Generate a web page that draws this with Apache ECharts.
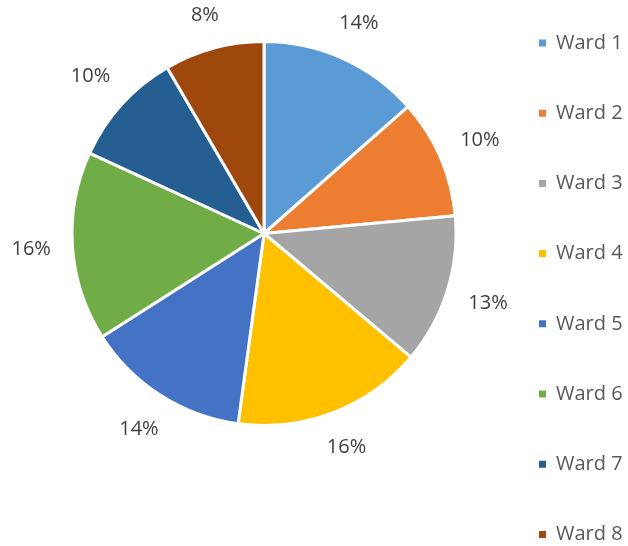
<!DOCTYPE html>
<html>
<head>
<meta charset="utf-8">
<script src="https://cdn.jsdelivr.net/npm/echarts@6/dist/echarts.min.js"></script>
<style>
  html, body { margin: 0; padding: 0; background: #fff; }
  #chart { width: 628px; height: 546px; }
</style>
</head>
<body>
<div id="chart"></div>
<script>
// wards and share values
let wards = ['Ward 1', 'Ward 2', 'Ward 3', 'Ward 4', 'Ward 5', 'Ward 6', 'Ward 7', 'Ward 8'];
let shares = [13.5, 10.0, 12.6, 16.0, 13.8, 15.9, 9.7, 8.4];
let colors = ['#5B9BD5', '#ED7D31', '#A5A5A5', '#FFC000', '#4472C4', '#70AD47', '#255E91', '#9E480E'];

let total = shares.reduce((a, b) => a + b, 0);
let pieData = wards.map((w, i) => ({ name: w, value: shares[i] }));
let font = '"Open Sans", sans-serif';
let cx = 264, cy = 233.5, rad = 192;
let labelGap = 213; // labels sit just outside this circle, like excel

let chart = echarts.init(document.getElementById('chart'));
chart.setOption({
  color: colors,
  animation: false,
  legend: {
    orient: 'vertical',
    left: 537,
    top: 33,
    padding: 0,
    data: wards,
    icon: 'rect',
    itemWidth: 9,
    itemHeight: 9,
    itemGap: 50.2,
    textStyle: { fontFamily: font, fontSize: 20, color: '#595959', padding: [0, 0, 0, 4] }
  },
  series: [
    {
      type: 'pie',
      center: [cx, cy],
      radius: rad,
      startAngle: 90,
      data: pieData,
      itemStyle: { borderColor: '#fff', borderWidth: 3 },
      label: {
        show: true,
        position: 'inside',
        fontFamily: font,
        fontSize: 20,
        color: '#404040',
        formatter: p => Math.round(p.value / total * 100) + '%'
      },
      labelLine: { show: false },
      // push each label out along its slice's middle, box touching the circle
      labelLayout: function (p) {
        let before = shares.slice(0, p.dataIndex).reduce((a, b) => a + b, 0);
        let mid = (before + shares[p.dataIndex] / 2) / total * Math.PI * 2;
        let sx = Math.sin(mid), sy = -Math.cos(mid);
        let w = p.labelRect.width, h = p.labelRect.height;
        let d = labelGap + Math.abs(sx) * w / 2 + Math.abs(sy) * h / 2;
        return { x: cx + sx * d, y: cy + sy * d, align: 'center', verticalAlign: 'middle' };
      }
    }
  ]
});
</script>
</body>
</html>
